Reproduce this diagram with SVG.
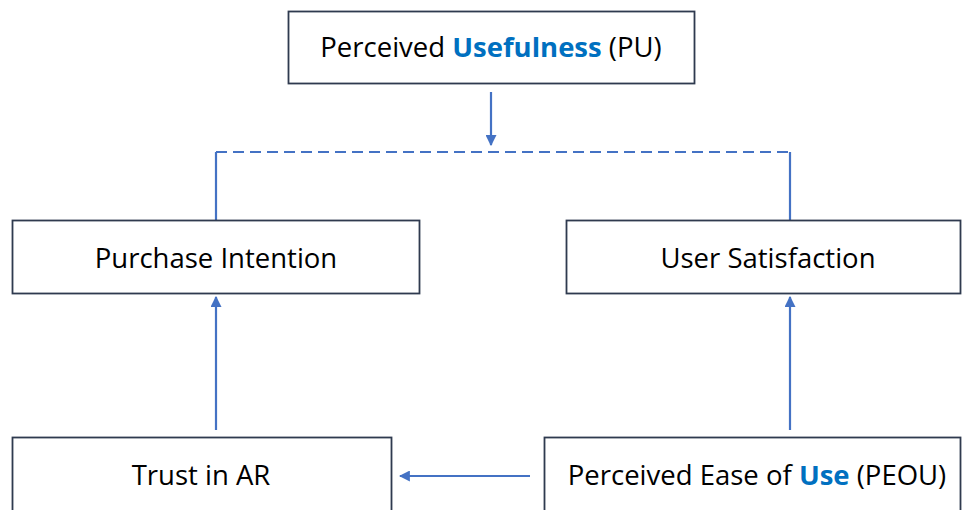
<svg xmlns="http://www.w3.org/2000/svg" width="962" height="510" viewBox="0 0 962 510">
<style>
.box{fill:#fff;stroke:#2f3a4f;stroke-width:1.8}
.t{font-family:"Open Sans","Liberation Sans",sans-serif;font-size:27.5px;fill:#000;text-anchor:middle}
.b{fill:#0070c0;font-weight:bold}
.c{stroke:#4472c4;stroke-width:2.2;fill:none}
</style>
<defs>
<marker id="ah" viewBox="0 0 10 10" refX="9" refY="5" markerWidth="5" markerHeight="5" orient="auto" markerUnits="strokeWidth">
<path d="M0,0 L10,5 L0,10 z" fill="#4472c4"/>
</marker>
</defs>
<rect width="962" height="510" fill="#fff"/>
<g id="connectors">
<line class="c" x1="491" y1="92" x2="491" y2="145" marker-end="url(#ah)"/>
<line class="c" x1="216" y1="152" x2="790" y2="152" stroke-dasharray="11,6"/>
<line class="c" x1="216" y1="152" x2="216" y2="220"/>
<line class="c" x1="790" y1="152" x2="790" y2="220"/>
<line class="c" x1="216" y1="430" x2="216" y2="297" marker-end="url(#ah)"/>
<line class="c" x1="790" y1="430" x2="790" y2="297" marker-end="url(#ah)"/>
<line class="c" x1="530" y1="476" x2="400" y2="476" marker-end="url(#ah)"/>
</g>
<g id="pu">
<rect class="box" x="288.5" y="11.5" width="406" height="72"/>
<text class="t" x="491" y="57">Perceived <tspan class="b">Usefulness</tspan> (PU)</text>
</g>
<g id="pi">
<rect class="box" x="12.5" y="220.5" width="407" height="73"/>
<text class="t" x="216" y="268">Purchase Intention</text>
</g>
<g id="us">
<rect class="box" x="566.5" y="220.5" width="394" height="73"/>
<text class="t" x="768" y="268">User Satisfaction</text>
</g>
<g id="trust">
<rect class="box" x="12.5" y="437.5" width="379" height="80"/>
<text class="t" x="201" y="485">Trust in AR</text>
</g>
<g id="peou">
<rect class="box" x="544.5" y="437.5" width="416" height="80"/>
<text class="t" x="757" y="485">Perceived Ease of <tspan class="b">Use</tspan> (PEOU)</text>
</g>
</svg>
